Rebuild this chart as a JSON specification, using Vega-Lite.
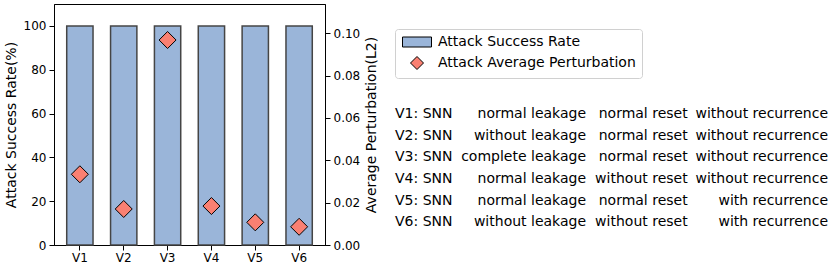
{
  "$schema": "https://vega.github.io/schema/vega-lite/v6.json",
  "padding": {"left": 3, "top": 3, "right": 0, "bottom": 0},
  "autosize": {"type": "pad"},
  "bounds": "flush",
  "spacing": 70,
  "config": {
    "font": "DejaVu Sans",
    "view": {"stroke": null},
    "axis": {
      "labelFont": "DejaVu Sans",
      "labelFontSize": 12,
      "labelColor": "black",
      "titleFont": "DejaVu Sans",
      "titleFontSize": 14,
      "titleFontWeight": "normal",
      "titleColor": "black",
      "tickColor": "black",
      "tickSize": 5,
      "labelPadding": 3,
      "domainColor": "black",
      "grid": false
    },
    "legend": {
      "title": null,
      "orient": "none",
      "legendX": 341,
      "legendY": 25,
      "strokeColor": "#d0d0d0",
      "cornerRadius": 3,
      "padding": 6,
      "symbolSize": 100,
      "symbolOffset": 9,
      "symbolStrokeColor": "black",
      "symbolStrokeWidth": 1,
      "labelFont": "DejaVu Sans",
      "labelFontSize": 14,
      "labelColor": "black",
      "labelOffset": 14,
      "labelLimit": 0,
      "rowPadding": 5
    },
    "text": {"font": "DejaVu Sans", "fontSize": 14, "color": "black"}
  },
  "datasets": {
    "results": [
      {"version": "V1", "asr": 100, "pert": 0.0334},
      {"version": "V2", "asr": 100, "pert": 0.0170},
      {"version": "V3", "asr": 100, "pert": 0.0968},
      {"version": "V4", "asr": 100, "pert": 0.0184},
      {"version": "V5", "asr": 100, "pert": 0.0107},
      {"version": "V6", "asr": 100, "pert": 0.0086}
    ],
    "variants": [
      {"version": "V1", "label": "V1: SNN", "leakage": "normal leakage", "reset": "normal reset", "recurrence": "without recurrence"},
      {"version": "V2", "label": "V2: SNN", "leakage": "without leakage", "reset": "normal reset", "recurrence": "without recurrence"},
      {"version": "V3", "label": "V3: SNN", "leakage": "complete leakage", "reset": "normal reset", "recurrence": "without recurrence"},
      {"version": "V4", "label": "V4: SNN", "leakage": "normal leakage", "reset": "without reset", "recurrence": "without recurrence"},
      {"version": "V5", "label": "V5: SNN", "leakage": "normal leakage", "reset": "normal reset", "recurrence": "with recurrence"},
      {"version": "V6", "label": "V6: SNN", "leakage": "without leakage", "reset": "without reset", "recurrence": "with recurrence"}
    ]
  },
  "hconcat": [
    {
      "width": 271,
      "height": 241,
      "data": {"name": "results"},
      "view": {"stroke": "black", "strokeWidth": 1},
      "encoding": {
        "x": {
          "field": "version",
          "type": "nominal",
          "scale": {"paddingInner": 0.4, "paddingOuter": 0.29},
          "axis": {"title": null, "labelAngle": 0, "labelPadding": 2}
        }
      },
      "layer": [
        {
          "mark": {"type": "bar", "stroke": "#454545", "strokeWidth": 1.5},
          "encoding": {
            "y": {
              "field": "asr",
              "type": "quantitative",
              "scale": {"domain": [0, 110], "nice": false},
              "axis": {"title": "Attack Success Rate(%)", "orient": "left", "values": [0, 20, 40, 60, 80, 100], "titlePadding": 5}
            },
            "color": {
              "datum": "Attack Success Rate",
              "type": "nominal",
              "scale": {"domain": ["Attack Success Rate", "Attack Average Perturbation"], "range": ["#9ab5d9", "#fa8072"]},
              "legend": {"encode": {"symbols": {"update": {"size": {"value": 100}}}}}
            }
          }
        },
        {
          "mark": {"type": "point", "filled": true, "stroke": "black", "strokeWidth": 1, "opacity": 1, "size": 171},
          "encoding": {
            "y": {
              "field": "pert",
              "type": "quantitative",
              "scale": {"domain": [0, 0.1138], "nice": false},
              "axis": {"title": "Average Perturbation(L2)", "orient": "right", "values": [0, 0.02, 0.04, 0.06, 0.08, 0.1], "format": ".2f", "titleAngle": 270, "titleBaseline": "top", "titlePadding": 5}
            },
            "color": {"datum": "Attack Average Perturbation", "type": "nominal"},
            "shape": {
              "datum": "Attack Average Perturbation",
              "type": "nominal",
              "scale": {
                "domain": ["Attack Success Rate", "Attack Average Perturbation"],
                "range": ["M-2.9,-1H2.9V1H-2.9Z", "M0,-1.3L1.3,0L0,1.3L-1.3,0Z"]
              },
              "legend": {"encode": {"symbols": {"update": {"size": {"value": 100}}}}}
            }
          }
        }
      ],
      "resolve": {"scale": {"y": "independent"}}
    },
    {
      "width": 433,
      "height": 241,
      "data": {"name": "variants"},
      "encoding": {
        "y": {"field": "version", "type": "nominal", "scale": {"type": "point", "padding": 0, "range": [110, 218.4]}, "axis": null}
      },
      "layer": [
        {
          "mark": {"type": "text", "align": "left", "baseline": "middle"},
          "encoding": {
            "text": {"field": "label"},
            "x": {"datum": "model", "type": "nominal", "scale": {"type": "point", "padding": 0, "domain": ["model", "leakage", "reset", "recurrence"], "range": [0, 433]}, "axis": null}
          }
        },
        {
          "mark": {"type": "text", "align": "right", "baseline": "middle", "dx": 46.7},
          "encoding": {
            "text": {"field": "leakage"},
            "x": {"datum": "leakage", "type": "nominal"}
          }
        },
        {
          "mark": {"type": "text", "align": "right", "baseline": "middle", "dx": 4},
          "encoding": {
            "text": {"field": "reset"},
            "x": {"datum": "reset", "type": "nominal"}
          }
        },
        {
          "mark": {"type": "text", "align": "right", "baseline": "middle"},
          "encoding": {
            "text": {"field": "recurrence"},
            "x": {"datum": "recurrence", "type": "nominal"}
          }
        }
      ]
    }
  ]
}
